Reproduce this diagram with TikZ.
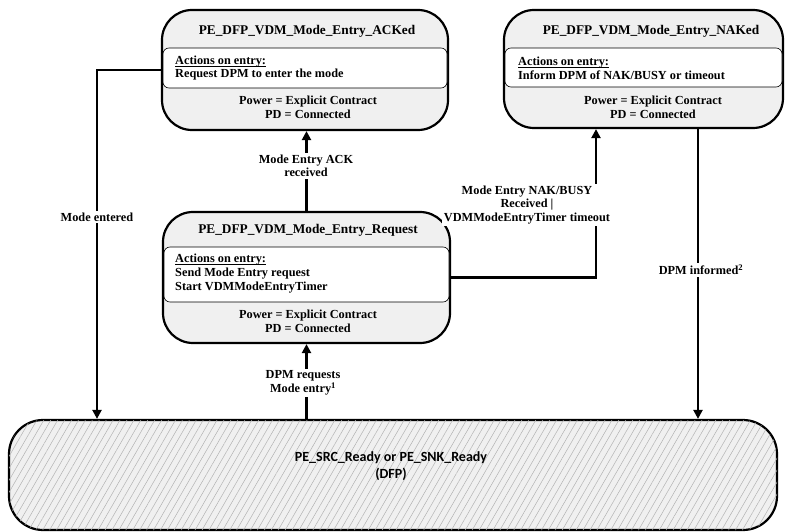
\documentclass[tikz,border=0pt]{standalone}
\usepackage{fontspec}
\setmainfont{Liberation Serif}
\newfontfamily\carlito{Carlito}
\usetikzlibrary{arrows.meta,patterns.meta}
\newcommand\ulbold[1]{\setbox0\hbox{#1}\rlap{\raisebox{-2.2pt}{\rule{\wd0}{0.7pt}}}#1}
\begin{document}
\begin{tikzpicture}[x=1pt,y=-1pt,
  state/.style={draw, line width=2.2pt, fill=black!6, rounded corners=30pt, inner sep=0pt},
  innerbox/.style={draw, line width=0.6pt, fill=white, rounded corners=6pt},
  titletxt/.style={font=\bfseries\fontsize{13.3}{15}\selectfont, inner sep=0pt},
  lefttxt/.style={font=\bfseries\fontsize{12.3}{13.8}\selectfont, inner sep=0pt, align=left, anchor=west},
  centtxt/.style={font=\bfseries\fontsize{12.3}{13.8}\selectfont, inner sep=0pt, align=center},
  conn/.style={line width=2.2pt},
  arr/.style={conn, -{Triangle[length=9pt,width=9pt]}},
  lbl/.style={font=\bfseries\fontsize{12.3}{13.5}\selectfont, fill=white, inner sep=1.5pt, align=center}
]
\useasboundingbox (0,0) rectangle (785,532);

% bottom state
\node[draw, line width=2.2pt, rounded corners=34pt, minimum width=768pt, minimum height=110pt,
      fill=black!6, postaction={pattern={Lines[angle=60,distance=6pt,line width=0.5pt]}, pattern color=black!30}]
      (ready) at (393,475) {};
\node[font=\carlito\bfseries\fontsize{14}{17}\selectfont, align=center, inner sep=0pt] (readytxt) at (391,466)
  {PE\_SRC\_Ready or PE\_SNK\_Ready\\(DFP)};

% ACKed
\node[state, minimum width=286pt, minimum height=120pt] (ack) at (305,70) {};
\draw[innerbox] (163,48) rectangle (447,88);
\node[titletxt] (acktitle) at (307,31) {PE\_DFP\_VDM\_Mode\_Entry\_ACKed};
\node[lefttxt] (ackact) at (175,68) {\ulbold{Actions on entry:}\\Request DPM to enter the mode};
\node[centtxt] (ackpow) at (308,107) {Power = Explicit Contract\\PD = Connected};

% NAKed
\node[state, minimum width=279pt, minimum height=118pt] (nak) at (643.5,69) {};
\draw[innerbox] (505,48) rectangle (782,87);
\node[titletxt] (naktitle) at (651,31) {PE\_DFP\_VDM\_Mode\_Entry\_NAKed};
\node[lefttxt] (nakact) at (518,68) {\ulbold{Actions on entry:}\\Inform DPM of NAK/BUSY or timeout};
\node[centtxt] (nakpow) at (653,107) {Power = Explicit Contract\\PD = Connected};

% Request
\node[state, minimum width=287pt, minimum height=131pt] (req) at (306.5,277.5) {};
\draw[innerbox] (164,247) rectangle (449,302);
\node[titletxt] (reqtitle) at (308,230) {PE\_DFP\_VDM\_Mode\_Entry\_Request};
\node[lefttxt] (reqact) at (175,273.5) {\ulbold{Actions on entry:}\\Send Mode Entry request\\Start VDMModeEntryTimer};
\node[centtxt] (reqpow) at (308,321.5) {Power = Explicit Contract\\PD = Connected};

% connector coordinates
\coordinate (mex) at (97,0);
\coordinate (nkx) at (596,0);
\coordinate (dix) at (698,0);

% connectors
\draw[arr] (ack.west) -| (mex |- ready.north);
\draw[arr] (req.north) -- (req.north |- ack.south);
\draw[arr] (req.south |- ready.north) -- (req.south);
\draw[arr] (req.east) -| (nkx |- nak.south);
\draw[arr] (dix |- nak.south) -- (dix |- ready.north);

% labels
\node[lbl] (lme) at (97,217) {Mode entered};
\node[lbl] (lack) at (306,166) {Mode Entry ACK\\received};
\node[lbl] (ldpm) at (303,383) {DPM requests\\Mode entry\textsuperscript{1}};
\node[lbl] (lnak) at (527,205) {Mode Entry NAK/BUSY\\Received |\\VDMModeEntryTimer timeout};
\node[lbl] (ldi) at (701,270) {DPM informed\textsuperscript{2}};
\end{tikzpicture}
\end{document}
